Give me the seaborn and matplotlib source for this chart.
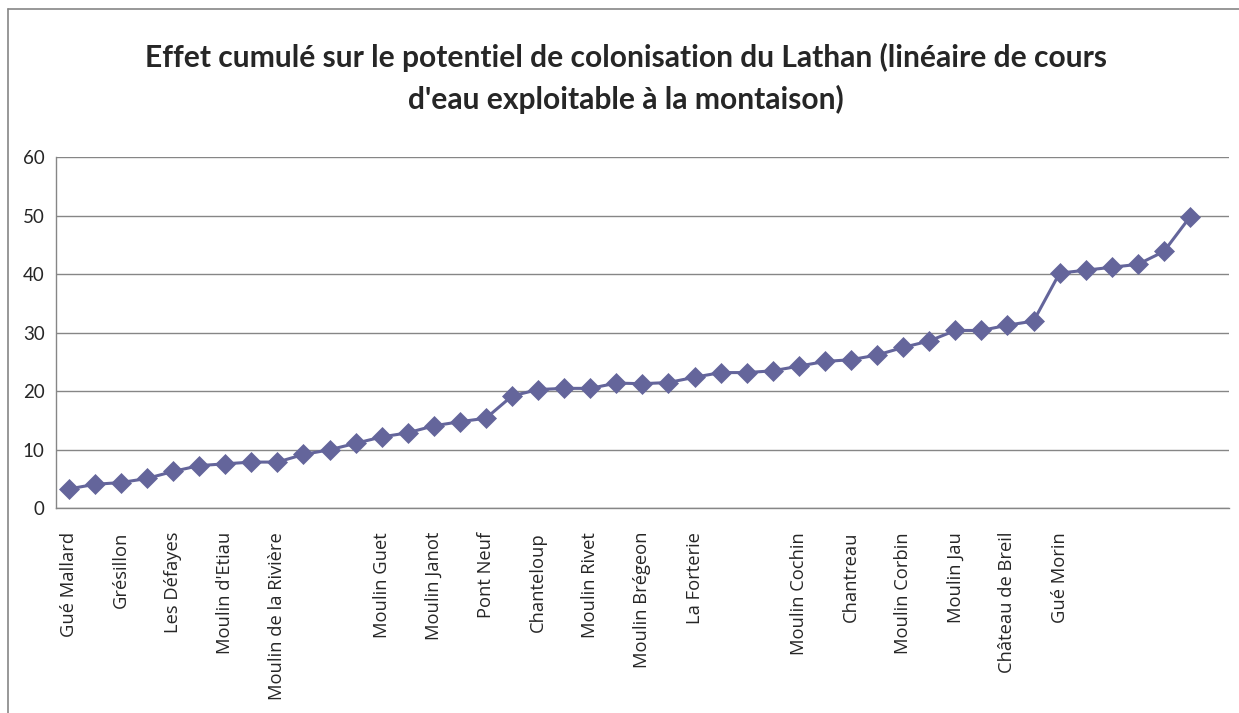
import matplotlib
matplotlib.use("Agg")
import matplotlib.pyplot as plt
from matplotlib.lines import Line2D
import seaborn as sns
import pandas as pd
import numpy as np

# Données
sites = ["Gué Mallard", "", "Grésillon", "", "Les Défayes", "", "Moulin d'Etiau", "",
         "Moulin de la Rivière", "", "", "", "Moulin Guet", "", "Moulin Janot", "",
         "Pont Neuf", "", "Chanteloup", "", "Moulin Rivet", "", "Moulin Brégeon", "",
         "La Forterie", "", "", "", "Moulin Cochin", "", "Chantreau", "",
         "Moulin Corbin", "", "Moulin Jau", "", "Château de Breil", "", "Gué Morin", "",
         "", "", "", "", ""]
lineaire = [3.3, 4.1, 4.4, 5.1, 6.3, 7.3, 7.6, 7.9, 7.9, 9.2,
            10.0, 11.1, 12.2, 12.9, 14.1, 14.8, 15.4, 19.2, 20.3, 20.5,
            20.5, 21.4, 21.3, 21.5, 22.4, 23.2, 23.2, 23.5, 24.3, 25.1,
            25.4, 26.2, 27.5, 28.6, 30.4, 30.4, 31.3, 32.0, 40.2, 40.7,
            41.2, 41.7, 43.9, 49.8, np.nan]
y_ticks = [0, 10, 20, 30, 40, 50, 60]

sns.set_style("white")
couleur = "#64659b"
gris = "#868686"

df = pd.DataFrame({"pos": np.arange(len(sites)), "val": lineaire})

fig = plt.figure(figsize=(12.39, 7.13), dpi=100)
ax = fig.add_axes([0.045, 0.2871, 0.947, 0.4923])

sns.lineplot(data=df, x="pos", y="val", ax=ax, color=couleur, linewidth=2.2,
             marker="D", markersize=10, markeredgecolor=couleur, markeredgewidth=0.5)

ax.set_xlim(-0.5, len(sites) - 0.5)
ax.set_ylim(0, 60)
ax.set_yticks(y_ticks)
ax.yaxis.grid(True, color=gris, linewidth=1)
ax.set_axisbelow(True)

# étiquettes au centre des catégories, graduations aux limites
ax.set_xticks(np.arange(len(sites)))
ax.set_xticklabels(sites, rotation=90)
for lab in ax.get_xticklabels():
    lab.set_fontfamily(["Open Sans", "DejaVu Sans"])
    lab.set_fontsize(13.2)
ax.set_xticks(np.arange(len(sites) + 1) - 0.5, minor=True)
ax.tick_params(axis="x", which="major", length=0, pad=17)
ax.tick_params(axis="x", which="minor", length=6, width=1, color=gris, direction="out")
ax.tick_params(axis="y", length=6, width=1, color=gris, direction="out", pad=2)
for lab in ax.get_yticklabels():
    lab.set_fontfamily(["Lato", "DejaVu Sans"])
    lab.set_fontsize(13.5)

for s in ["top", "right"]:
    ax.spines[s].set_visible(False)
for s in ["left", "bottom"]:
    ax.spines[s].set_color(gris)
    ax.spines[s].set_linewidth(1)

ax.set_xlabel("")
ax.set_ylabel("")

fig.text(0.505, 0.89, "Effet cumulé sur le potentiel de colonisation du Lathan (linéaire de cours\nd'eau exploitable à la montaison)",
         ha="center", va="center", fontsize=21.6, fontweight="bold",
         family=["Lato", "DejaVu Sans"], linespacing=1.55)

# cadre du graphique (gauche et haut)
fig.add_artist(Line2D([0.0065, 0.0065], [0, 0.9875], color=gris, linewidth=1.2))
fig.add_artist(Line2D([0.0065, 1.0], [0.9875, 0.9875], color=gris, linewidth=1.2))

fig.savefig("out.png", dpi=100, facecolor="white")
